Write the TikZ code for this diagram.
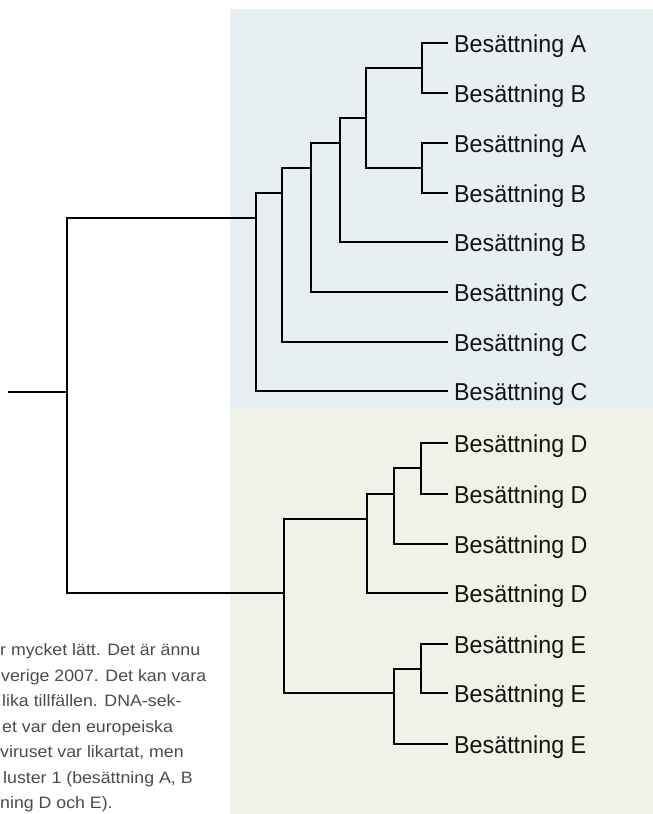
\documentclass[tikz,border=0pt]{standalone}
\usepackage{graphicx}
\usepackage{fontspec}
\setmainfont{Liberation Sans}
\definecolor{panelblue}{RGB}{232,239,243}
\definecolor{panelgreen}{RGB}{239,242,228}
\definecolor{bodygray}{RGB}{75,75,75}
\definecolor{labelblack}{RGB}{20,20,20}
\newlength\bodyw
\newlength\labw
\newcommand\bodysel{\fontsize{16.5}{25.5}\selectfont}
\newcommand\labsel{\fontsize{24.5}{30}\selectfont}
\begin{document}
\settowidth{\bodyw}{\bodysel r mycket lätt. Det är ännu}%
\settowidth{\labw}{\labsel Besättning A}%
\pgfmathsetmacro\bsx{200/\bodyw}%
\pgfmathsetmacro\lsx{132/\labw}%
\begin{tikzpicture}[x=1pt,y=-1pt,
  branch/.style={draw=black,line width=2pt,line cap=rect,line join=miter},
  leaflabel/.style={anchor=base west,inner sep=0pt,text=labelblack,font=\labsel},
  bodyline/.style={anchor=base west,inner sep=0pt,text=bodygray,font=\bodysel}]
\useasboundingbox (0,0) rectangle (653,814);
\begin{scope}
\clip (0,0) rectangle (653,814);
% panels
\fill[panelblue] (230,9) rectangle (653,409);
\fill[panelgreen] (230,409) rectangle (653,814);
% body text (cropped)
\node[bodyline] (p1) at (0,655) {\scalebox{\bsx}[1]{r mycket lätt. Det är ännu}};
\node[bodyline] (p2) at (1,681) {\scalebox{\bsx}[1]{verige 2007. Det kan vara}};
\node[bodyline] (p3) at (2,706) {\scalebox{\bsx}[1]{lika tillfällen. DNA-sek-}};
\node[bodyline] (p4) at (2,732) {\scalebox{\bsx}[1]{et var den europeiska}};
\node[bodyline] (p5) at (0,757) {\scalebox{\bsx}[1]{viruset var likartat, men}};
\node[bodyline] (p6) at (3,783) {\scalebox{\bsx}[1]{luster 1 (besättning A, B}};
\node[bodyline] (p7) at (0,808) {\scalebox{\bsx}[1]{ning D och E).}};
\end{scope}
% leaf tips
\foreach \i/\yy in {1/43,2/93,3/143,4/193,5/242,6/292,7/342,8/391,9/443,10/494,11/544,12/593,13/644,14/693,15/744}{
  \coordinate (t\i) at (447,\yy);
}
% labels
\foreach \i/\yy/\t in {1/43/A,2/93/B,3/143/A,4/193/B,5/242/B,6/292/C,7/342/C,8/391/C,9/443/D,10/494/D,11/544/D,12/593/D,13/644/E,14/693/E,15/744/E}{
  \node[leaflabel] (L\i) at (454,\yy+9) {\scalebox{\lsx}[1]{Besättning \t}};
}
% internal nodes (x position, entry height)
\coordinate (a1) at (422,68);
\coordinate (a2) at (422,168);
\coordinate (b) at (366,118);
\coordinate (c) at (340,143);
\coordinate (d) at (311,168);
\coordinate (e) at (282,193);
\coordinate (f) at (256,218);
\coordinate (g1) at (421,468);
\coordinate (g2) at (394,494);
\coordinate (g3) at (367,519);
\coordinate (h1) at (421,669);
\coordinate (h2) at (394,693);
\coordinate (de) at (284,593);
\coordinate (root) at (67,392);
\coordinate (stem) at (9,392);
% elbows
\foreach \p/\ca/\cb in {a1/t1/t2,a2/t3/t4,b/a1/a2,c/b/t5,d/c/t6,e/d/t7,f/e/t8,
  g1/t9/t10,g2/g1/t11,g3/g2/t12,h1/t13/t14,h2/h1/t15,de/g3/h2,root/f/de}{
  \draw[branch] (\ca) -- (\p |- \ca) -- (\p |- \cb) -- (\cb);
}
\draw[branch] (stem) -- (root);
\end{tikzpicture}
\end{document}
